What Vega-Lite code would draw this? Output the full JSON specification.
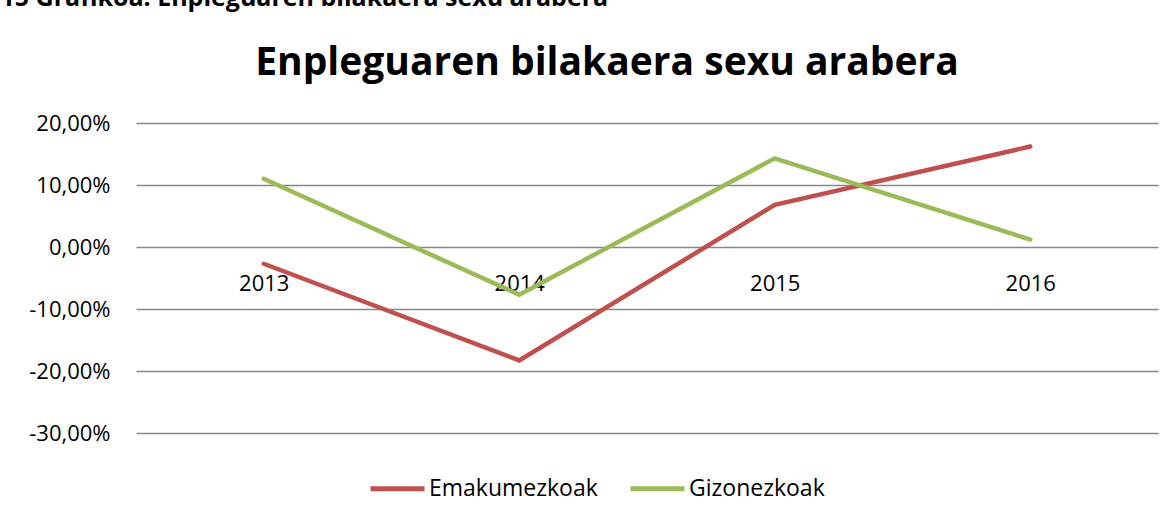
{
  "$schema": "https://vega.github.io/schema/vega-lite/v6.json",
  "autosize": {"type": "none"},
  "padding": {"left": 136, "top": 123, "right": 15, "bottom": 86},
  "width": 1022,
  "height": 310,
  "background": "white",
  "config": {
    "locale": {
      "number": {"decimal": ",", "thousands": ".", "grouping": [3], "currency": ["", " €"], "minus": "-"}
    },
    "view": {"stroke": null},
    "font": "Open Sans"
  },
  "title": {
    "text": "Enpleguaren bilakaera sexu arabera",
    "anchor": "middle",
    "frame": "group",
    "dx": -40,
    "offset": -129,
    "baseline": "alphabetic",
    "font": "Open Sans",
    "fontSize": 39,
    "fontWeight": "bold",
    "color": "black"
  },
  "data": {
    "values": [
      {"year": "2013", "sex": "Emakumezkoak", "value": -0.027},
      {"year": "2014", "sex": "Emakumezkoak", "value": -0.183},
      {"year": "2015", "sex": "Emakumezkoak", "value": 0.068},
      {"year": "2016", "sex": "Emakumezkoak", "value": 0.162},
      {"year": "2013", "sex": "Gizonezkoak", "value": 0.110},
      {"year": "2014", "sex": "Gizonezkoak", "value": -0.077},
      {"year": "2015", "sex": "Gizonezkoak", "value": 0.143},
      {"year": "2016", "sex": "Gizonezkoak", "value": 0.012}
    ]
  },
  "mark": {"type": "line", "strokeWidth": 4.5, "strokeCap": "round", "strokeJoin": "miter"},
  "encoding": {
    "x": {
      "field": "year",
      "type": "ordinal",
      "scale": {"type": "point", "padding": 0.5},
      "axis": {
        "title": null,
        "labelAngle": 0,
        "ticks": false,
        "domain": false,
        "grid": false,
        "offset": -186,
        "labelPadding": 43,
        "labelBaseline": "alphabetic",
        "labelFont": "Open Sans",
        "labelFontSize": 22,
        "labelColor": "black"
      }
    },
    "y": {
      "field": "value",
      "type": "quantitative",
      "scale": {"domain": [-0.3, 0.2], "nice": false, "zero": false},
      "axis": {
        "title": "15 Grafikoa: Enpleguaren bilakaera sexu arabera",
        "titleAngle": 0,
        "titleX": -136,
        "titleY": -118,
        "titleAlign": "left",
        "titleBaseline": "alphabetic",
        "titleFont": "Open Sans",
        "titleFontSize": 25,
        "titleFontWeight": "bold",
        "titleColor": "black",
        "values": [-0.3, -0.2, -0.1, 0, 0.1, 0.2],
        "format": ".2%",
        "ticks": false,
        "domain": false,
        "grid": true,
        "gridColor": "#888888",
        "gridWidth": 1.5,
        "gridOpacity": 1,
        "labelPadding": 26,
        "labelFont": "Open Sans",
        "labelFontSize": 22,
        "labelColor": "black"
      }
    },
    "color": {
      "field": "sex",
      "type": "nominal",
      "scale": {"domain": ["Emakumezkoak", "Gizonezkoak"], "range": ["#C0504D", "#9BBB59"]},
      "legend": {
        "title": null,
        "orient": "none",
        "legendX": 232,
        "legendY": 336,
        "direction": "horizontal",
        "symbolType": "stroke",
        "symbolSize": 2916,
        "symbolStrokeWidth": 5,
        "labelFont": "Open Sans",
        "labelFontSize": 23,
        "labelLimit": 400,
        "labelColor": "black",
        "labelOffset": 2,
        "columnPadding": 22
      }
    }
  }
}
